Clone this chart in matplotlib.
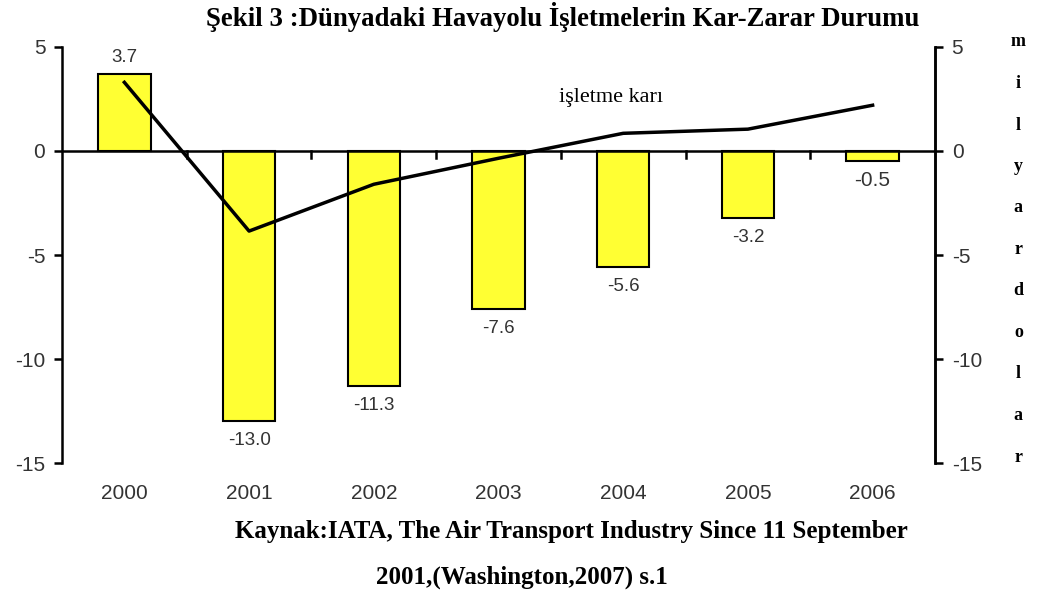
import numpy as np
import matplotlib
matplotlib.use("Agg")
import matplotlib.pyplot as plt

years = ["2000", "2001", "2002", "2003", "2004", "2005", "2006"]
net_result = [3.7, -13.0, -11.3, -7.6, -5.6, -3.2, -0.5]
operating_profit = [3.3, -3.85, -1.6, -0.35, 0.85, 1.05, 2.2]
bar_labels = ["3.7", "-13.0", "-11.3", "-7.6", "-5.6", "-3.2", "-0.5"]
y_ticks = [5, 0, -5, -10, -15]
unit_letters = list("milyardolar")

fig = plt.figure(figsize=(10.37, 5.94), dpi=100)
ax = fig.add_axes([0.0598, 0.2205, 0.8418, 0.7004])
x = np.arange(len(years))

ax.bar(x, net_result, width=0.42, color="#ffff33", edgecolor="black", linewidth=1.5, zorder=2)
ax.plot(x, operating_profit, color="black", linewidth=2.5, zorder=3)
ax.axhline(0, color="black", linewidth=1.8, zorder=4)

for xi, v, lab in zip(x, net_result, bar_labels):
    # the last label was typed in a different font in the original
    fs = 15 if lab == "-0.5" else 13.5
    if v >= 0:
        ax.annotate(lab, (xi, v), xytext=(0, 12), textcoords="offset points",
                    ha="center", va="center", fontsize=fs, family="Liberation Sans", color="#333333")
    else:
        ax.annotate(lab, (xi, v), xytext=(0, -14), textcoords="offset points",
                    ha="center", va="center", fontsize=fs, family="Liberation Sans", color="#333333")

ax.text(3.9, 2.55, "işletme karı", fontsize=16, family="Liberation Serif", ha="center", va="center")

ax.set_xlim(-0.5, 6.5)
ax.set_ylim(-15, 5)
ax.set_yticks(y_ticks)
ax.set_yticklabels([str(t) for t in y_ticks], family="Liberation Sans", fontsize=15, color="#333333")
ax.tick_params(axis="y", direction="out", length=6, width=1.8, pad=6)

# category boundary ticks on the zero line
for b in np.arange(0.5, 6.5, 1.0):
    ax.plot([b, b], [0, -0.35], color="black", linewidth=1.8, zorder=4)

ax.set_xticks(x)
ax.set_xticklabels(years, family="Liberation Sans", fontsize=15, color="#333333")
ax.tick_params(axis="x", length=0, pad=15)

for s in ["top", "bottom"]:
    ax.spines[s].set_visible(False)
ax.spines["left"].set_linewidth(1.8)
ax.spines["right"].set_linewidth(1.8)

ax2 = ax.twinx()
ax2.set_ylim(-15, 5)
ax2.set_yticks(y_ticks)
ax2.set_yticklabels([str(t) for t in y_ticks], family="Liberation Sans", fontsize=15, color="#333333")
ax2.tick_params(axis="y", direction="out", length=6, width=1.8, pad=6)
for s in ["top", "bottom", "left"]:
    ax2.spines[s].set_visible(False)
ax2.spines["right"].set_linewidth(1.8)

# vertical unit label, one letter per line
for i, ch in enumerate(unit_letters):
    fig.text(0.982, 1 - (42 + i * 41.5) / 594, ch, family="Liberation Serif", fontsize=13,
             fontweight="bold", ha="center", va="center")

fig.text(0.543, 0.971, "Şekil 3 :Dünyadaki Havayolu İşletmelerin Kar-Zarar Durumu",
         family="Liberation Serif", fontsize=19.3, fontweight="bold", ha="center", va="center")
fig.text(0.551, 0.106, "Kaynak:IATA, The Air Transport Industry Since 11 September",
         family="Liberation Serif", fontsize=18, fontweight="bold", ha="center", va="center")
fig.text(0.503, 0.028, "2001,(Washington,2007) s.1",
         family="Liberation Serif", fontsize=18, fontweight="bold", ha="center", va="center")

fig.savefig("out.png", dpi=100)
